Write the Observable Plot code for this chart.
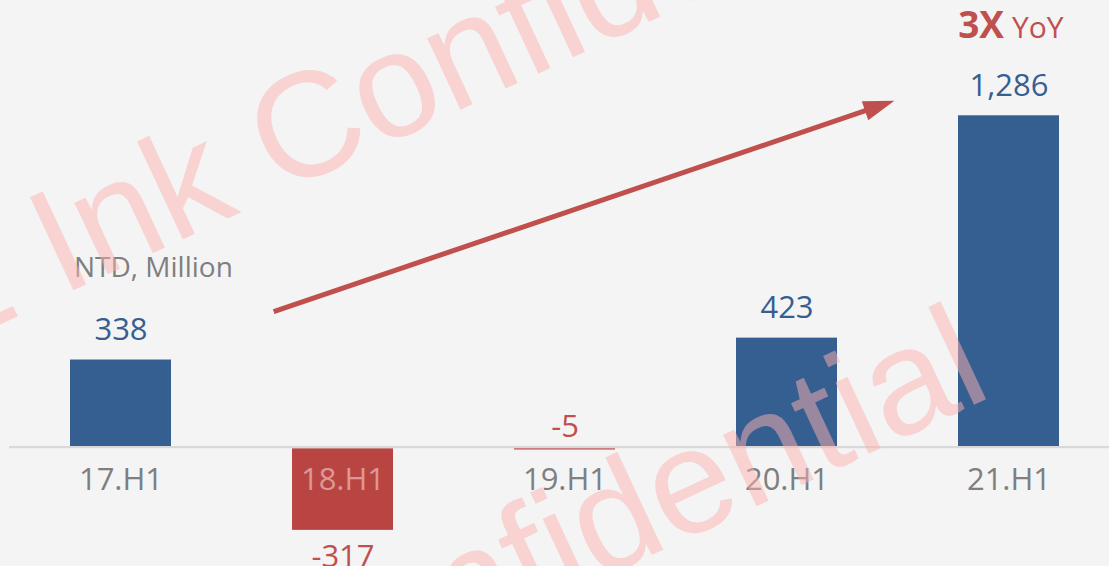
<!DOCTYPE html>
<html><head><meta charset="utf-8">
<script src="https://cdn.jsdelivr.net/npm/d3@7"></script>
<script src="https://cdn.jsdelivr.net/npm/@observablehq/plot@0.6"></script>
<style>
html,body{margin:0;padding:0;background:#f4f4f4;}
#chart svg{display:block;}
</style></head><body><div id="chart"></div>
<script>
// ---- data ----
const categories = ["17.H1", "18.H1", "19.H1", "20.H1", "21.H1"];
const values = [338, -317, -5, 423, 1286];
const valueLabels = ["338", "-317", "-5", "423", "1,286"];
const unitLabel = ["NTD, Million"];
const growthStrong = ["3X"];
const growthWeak = ["YoY"];
const watermarkText = "E Ink Confidential";
// trend arrow annotation, in (category index, value) terms
const arrowFrom = {index: 0.69, value: 524};
const arrowTo = {index: 3.486, value: 1342};

// ---- styles ----
const BLUE = "#365f91", RED_BAR = "#b94543", RED = "#c0504d", GRAY = "#7f7f7f";
const FONT = "'Open Sans', sans-serif";
const WM_FONT = "'Liberation Sans', Arial, sans-serif";

const rows = categories.map((c, i) => ({cat: c, value: values[i], label: valueLabels[i]}));
const pos = rows.filter(d => d.value >= 0);
const neg = rows.filter(d => d.value < 0);
const bigNeg = neg.filter(d => d.value < -50);
const smallNeg = neg.filter(d => d.value >= -50);

const plot = Plot.plot({
  width: 1109,
  height: 566,
  margin: 0,
  style: {background: "#f4f4f4", fontFamily: FONT, overflow: "visible"},
  x: {domain: categories, range: [9, 1119.5], paddingInner: 0.543, paddingOuter: 0.2715, axis: null},
  y: {domain: [0, 1286], range: [446.6, 115.3], axis: null},
  marks: [
    Plot.barY(pos, {x: "cat", y: "value", fill: BLUE}),
    Plot.barY(neg, {x: "cat", y: "value", fill: d => d.value < -50 ? RED_BAR : "#c0393b", dy: 1.6}),
    Plot.ruleY([0], {stroke: "#d9d9d9", strokeWidth: 2.4, insetLeft: 9}),
    // value labels
    Plot.text(pos, {x: "cat", y: "value", text: "label", fill: BLUE, fontSize: 31, lineAnchor: "bottom", dy: -20}),
    Plot.text(bigNeg, {x: "cat", y: "value", text: "label", fill: RED, fontSize: 31, lineAnchor: "bottom", dy: 38}),
    Plot.text(smallNeg, {x: "cat", y: () => 0, text: "label", fill: RED, fontSize: 31, lineAnchor: "bottom", dy: -10}),
    // category labels
    Plot.text(rows, {x: "cat", y: () => 0, text: "cat", fill: d => d.value < -50 ? "#dc9896" : GRAY, fontSize: 31, lineAnchor: "bottom", dy: 43}),
    // unit label
    Plot.text(unitLabel, {x: () => categories[0], y: () => 338, text: d => d, fill: GRAY, fontSize: 28, textAnchor: "start", lineAnchor: "bottom", dx: -47, dy: -83}),
    // growth note above last bar
    Plot.text(growthStrong, {x: () => categories[4], y: () => 1286, text: d => d, fill: RED, fontSize: 37, fontWeight: "bold", textAnchor: "end", lineAnchor: "bottom", dx: -5, dy: -78}),
    Plot.text(growthWeak, {x: () => categories[4], y: () => 1286, text: d => d, fill: RED, fontSize: 30, textAnchor: "start", lineAnchor: "bottom", dx: 3, dy: -78}),
    // watermark
    Plot.text([watermarkText], {frameAnchor: "top-left", text: d => d, dx: -67, dy: 355, rotate: -25, fontSize: 149, fontFamily: WM_FONT, fill: "#fcb2b0", fillOpacity: 0.5, textAnchor: "start", lineAnchor: "bottom"}),
    Plot.text([watermarkText], {frameAnchor: "top-left", text: d => d, dx: -64, dy: 888, rotate: -25, fontSize: 149, fontFamily: WM_FONT, fill: "#fcb2b0", fillOpacity: 0.5, textAnchor: "start", lineAnchor: "bottom"})
  ]
});

document.getElementById("chart").append(plot);

// ---- trend arrow drawn through the plot's own scales ----
const xs = plot.scale("x"), ys = plot.scale("y");
const step = xs.step ?? (xs.apply(categories[1]) - xs.apply(categories[0]));
const cx = i => xs.apply(categories[0]) + xs.bandwidth / 2 + i * step;
const x1 = cx(arrowFrom.index), y1 = ys.apply(arrowFrom.value);
const x2 = cx(arrowTo.index), y2 = ys.apply(arrowTo.value);
const ang = Math.atan2(y2 - y1, x2 - x1);
const headLen = 31, headHalf = 10;
const bx = x2 - headLen * Math.cos(ang), by = y2 - headLen * Math.sin(ang);
const nx = -Math.sin(ang), ny = Math.cos(ang);
const wm = Array.from(plot.querySelectorAll("text")).find(t => t.textContent === watermarkText);
const wmGroup = wm ? wm.closest("g[aria-label]") || wm.parentNode : null;
const g = document.createElementNS("http://www.w3.org/2000/svg", "g");
if (wmGroup && wmGroup.parentNode === plot) plot.insertBefore(g, wmGroup); else plot.appendChild(g);
const sel = d3.select(g);
sel.append("line").attr("x1", x1).attr("y1", y1).attr("x2", bx + 2 * Math.cos(ang)).attr("y2", by + 2 * Math.sin(ang))
  .attr("stroke", RED).attr("stroke-width", 5);
sel.append("path").attr("d", `M${x2},${y2}L${bx + nx * headHalf},${by + ny * headHalf}L${bx - nx * headHalf},${by - ny * headHalf}Z`)
  .attr("fill", RED);
</script>
</body></html>
